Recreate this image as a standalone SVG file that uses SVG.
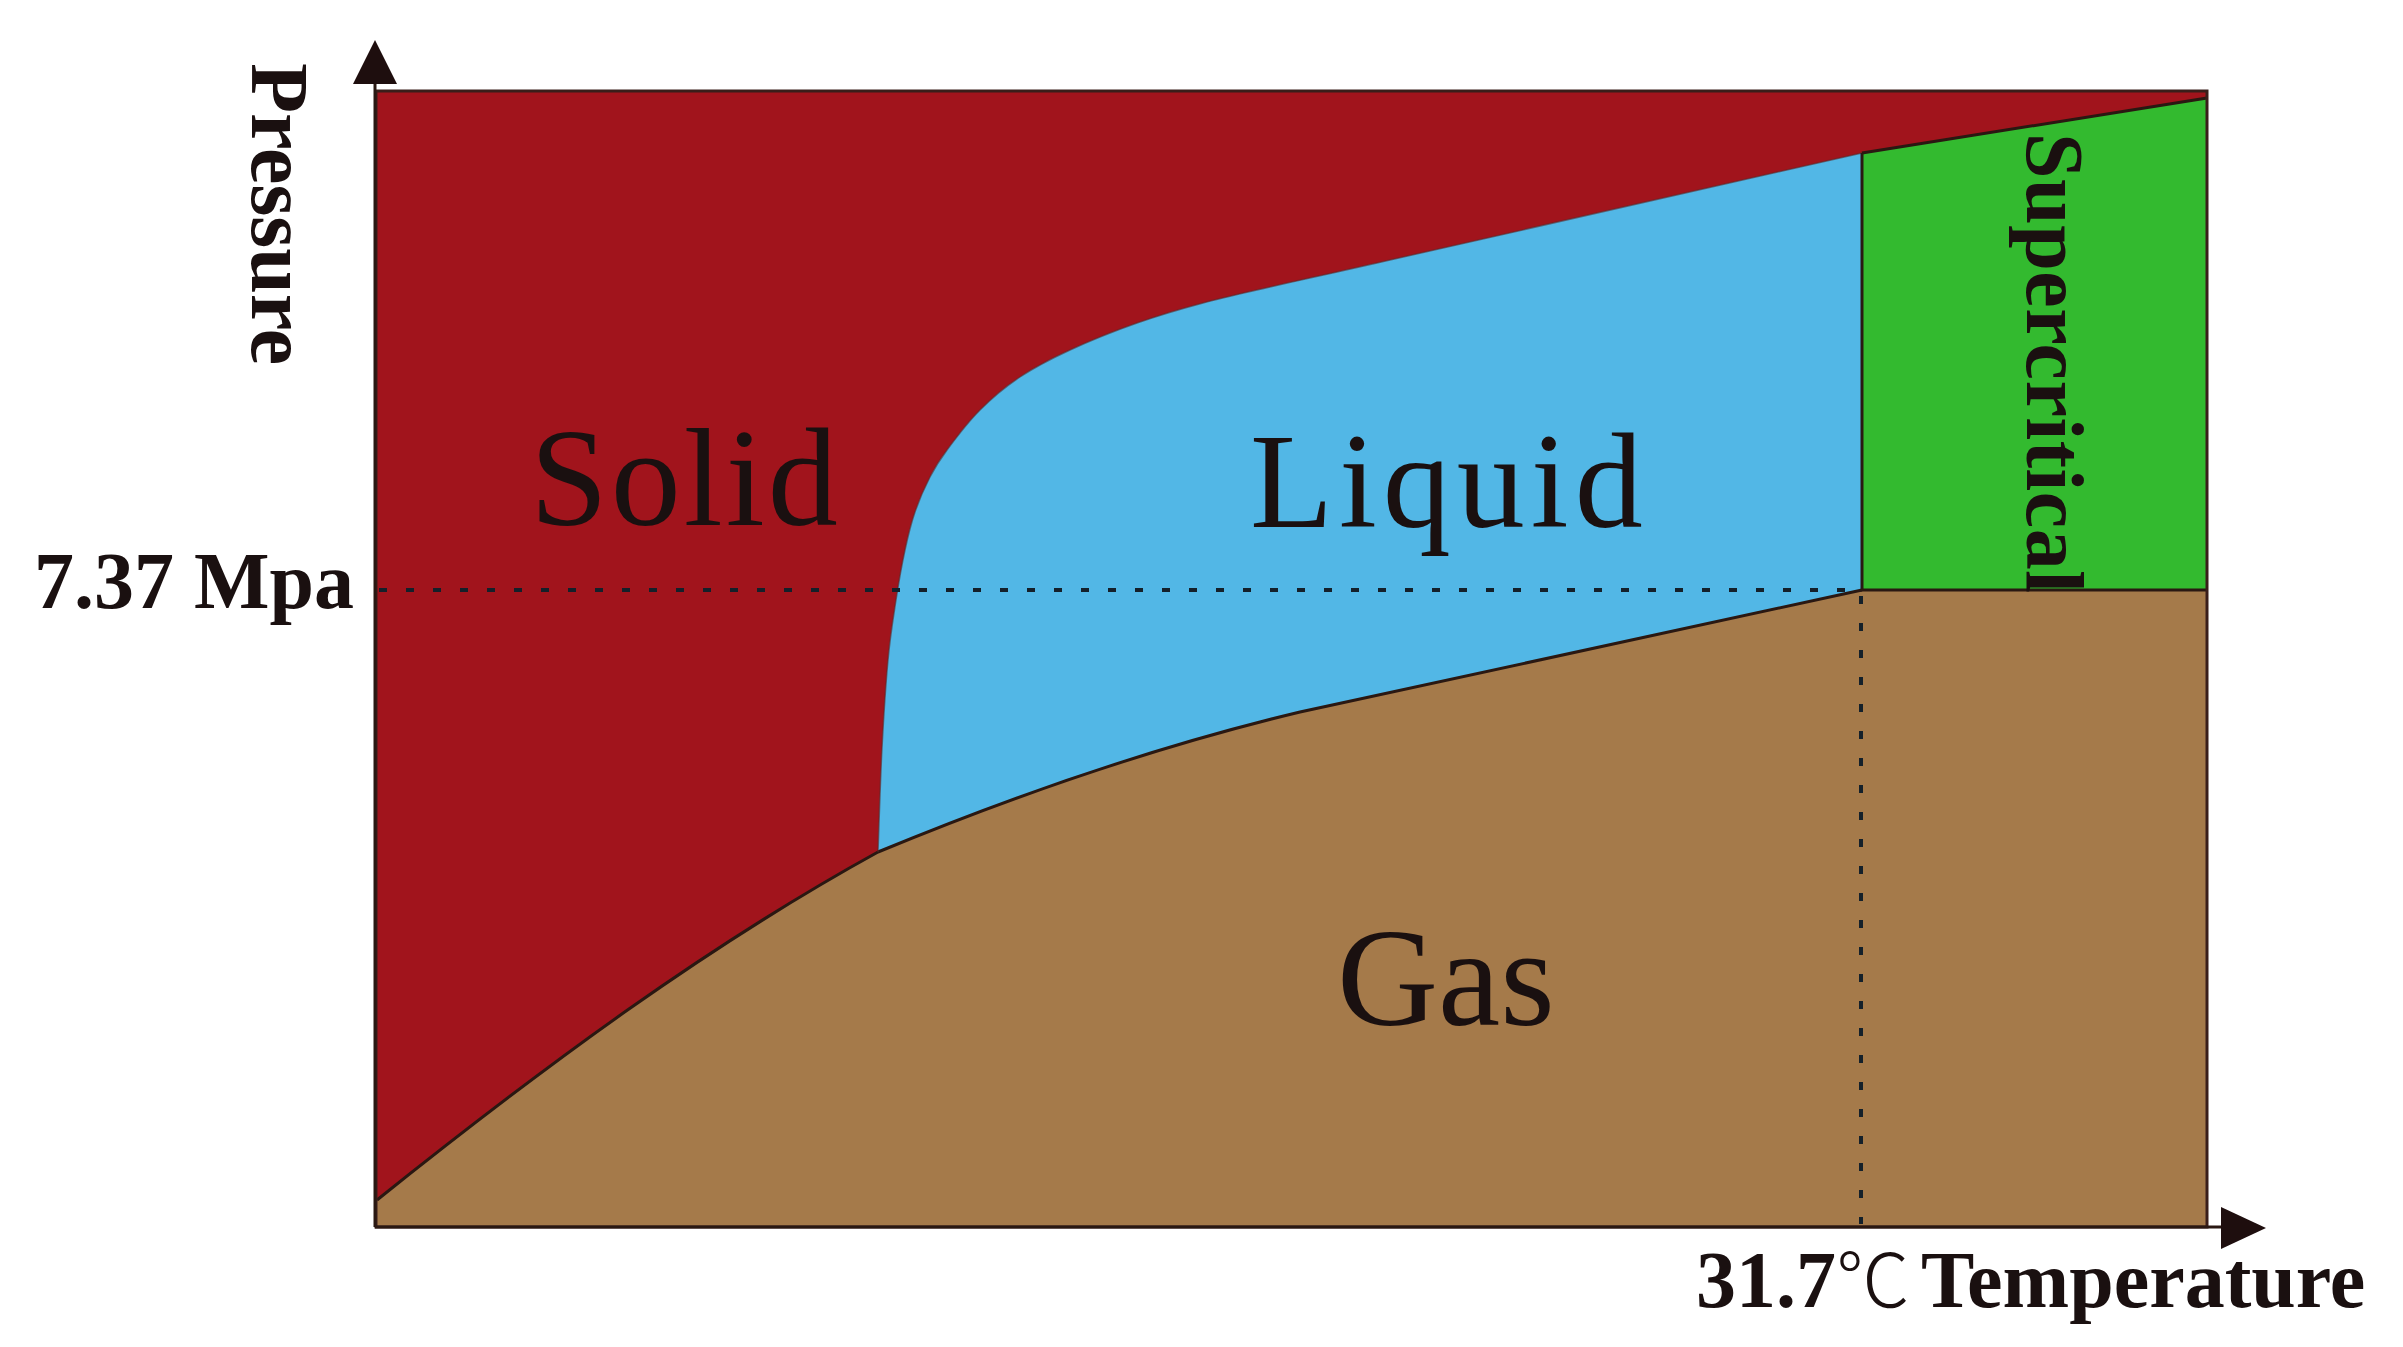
<svg xmlns="http://www.w3.org/2000/svg" width="2403" height="1347" viewBox="0 0 2403 1347">
<style>
.lbl{font-family:"Liberation Serif","Times New Roman",serif;fill:#1a1010}
.big{font-size:140px}
.bold{font-weight:bold;font-size:80px}
.edge{fill:none;stroke:#2a1812;stroke-width:3}
.dot{fill:none;stroke:#14202a;stroke-width:4;stroke-dasharray:8 19}
.axis{fill:none;stroke:#2a1812;stroke-width:3}
.arrow{fill:#1e0e0e}
</style>
<defs>
<path id="sl" d="M878,852 C878.7,834.7 880.3,780 882,748 C883.7,716 885.7,684.7 888,660 C890.3,635.3 893.2,618.3 896,600 C898.8,581.7 901.8,564.7 905,550 C908.2,535.3 910.8,524.2 915,512 C919.2,499.8 924.7,487.3 930,477 C935.3,466.7 938.7,461.2 947,450 C955.3,438.8 967.8,422.2 980,410 C992.2,397.8 1005,387 1020,377 C1035,367 1050.5,359 1070,350 C1089.5,341 1114.8,330.8 1137,323 C1159.2,315.2 1180.8,309 1203,303 C1225.2,297 1247.7,292.2 1270,287 C1292.3,281.8 1317,276.5 1337,272 C1357,267.5 1372.3,264 1390,260 L1862,153"/>
</defs>
<rect width="2403" height="1347" fill="#ffffff"/>
<g id="solid">
<rect x="376" y="91" width="1831" height="1136" fill="#A1141C"/>
</g>
<g id="gas">
<path d="M377,1200 C547,1064 708,945.5 878,852 Q1100,760 1300,712 L1862,590 L2207,590 L2207,1227 L377,1227 Z" fill="#A57A4A"/>
</g>
<g id="liquid">
<path d="M878,852 C878.7,834.7 880.3,780 882,748 C883.7,716 885.7,684.7 888,660 C890.3,635.3 893.2,618.3 896,600 C898.8,581.7 901.8,564.7 905,550 C908.2,535.3 910.8,524.2 915,512 C919.2,499.8 924.7,487.3 930,477 C935.3,466.7 938.7,461.2 947,450 C955.3,438.8 967.8,422.2 980,410 C992.2,397.8 1005,387 1020,377 C1035,367 1050.5,359 1070,350 C1089.5,341 1114.8,330.8 1137,323 C1159.2,315.2 1180.8,309 1203,303 C1225.2,297 1247.7,292.2 1270,287 C1292.3,281.8 1317,276.5 1337,272 C1357,267.5 1372.3,264 1390,260 L1862,153 L1862,590 L1300,712 Q1100,760 878,852 Z" fill="#52B7E6"/>
</g>
<g id="supercritical">
<path d="M1862,153 L2207,98 L2207,590 L1862,590 Z" fill="#33BA2F"/>
</g>
<g id="connectors">
<path class="edge" d="M377,1200 C547,1064 708,945.5 878,852 Q1100,760 1300,712 L1862,590"/>
<use href="#sl" fill="none" stroke="#5a2a2a" stroke-width="1.5" stroke-opacity="0.6"/>
<path class="edge" d="M1862,153 L2207,98"/>
<path class="edge" d="M1862,153 L1862,590 L2207,590"/>
<path class="dot" d="M379,590 L1858,590"/>
<path class="dot" d="M1861,596 L1861,1224"/>
<rect x="376" y="91" width="1831" height="1136" fill="none" stroke="#3a1e1a" stroke-width="3"/>
<path class="axis" d="M375,1227 L375,80"/>
<path class="arrow" d="M353,84 L397,84 L375,40 Z"/>
<path class="axis" d="M375,1227 L2224,1227"/>
<path class="arrow" d="M2221,1207 L2266,1228 L2221,1249 Z"/>
</g>
<g id="labels">
<text class="lbl big" x="530" y="525" letter-spacing="3">Solid</text>
<text class="lbl" x="1250" y="527" font-size="136" letter-spacing="6">Liquid</text>
<text class="lbl big" x="1337" y="1025">Gas</text>
<text class="lbl" font-weight="bold" font-size="82" transform="translate(2027,133) rotate(90)" textLength="460" lengthAdjust="spacing">Supercritical</text>
<text class="lbl" font-weight="bold" font-size="82" transform="translate(252,63) rotate(90)">Pressure</text>
<text class="lbl bold" x="354" y="608" text-anchor="end">7.37 Mpa</text>
<text class="lbl bold" x="1696" y="1307">31.7<tspan font-family="'Noto Sans CJK SC','Liberation Serif',sans-serif" font-weight="300" font-size="74">℃</tspan> <tspan x="1921">Temperature</tspan></text>
</g>
</svg>
